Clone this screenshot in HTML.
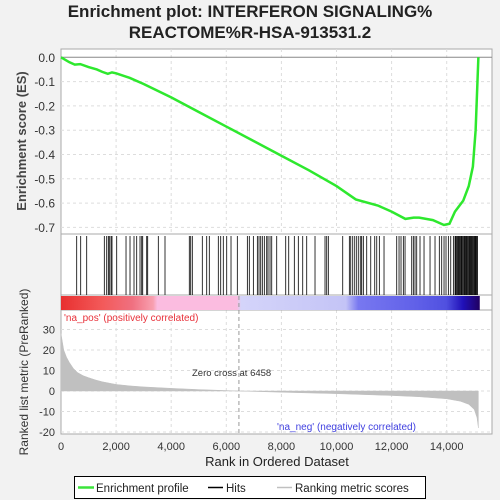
<!DOCTYPE html>
<html><head><meta charset="utf-8"><style>
body{margin:0;background:#f2f2f2;}
svg{display:block;font-family:"Liberation Sans",sans-serif;}
</style></head><body>
<svg id="c" width="500" height="500">
<rect x="0" y="0" width="500" height="500" fill="#f2f2f2"/>
<text x="250" y="17" text-anchor="middle" font-size="17" font-weight="bold" fill="#222">Enrichment plot: INTERFERON SIGNALING%</text>
<text x="250" y="38" text-anchor="middle" font-size="17" font-weight="bold" fill="#222">REACTOME%R-HSA-913531.2</text>
<rect x="61" y="49" width="431" height="385" fill="#fff" stroke="#aaa"/>
<g id="grid"></g>
<g id="layers"></g>
<text transform="translate(26,141) rotate(-90)" text-anchor="middle" font-size="13" font-weight="bold" fill="#444">Enrichment score (ES)</text>
<text transform="translate(28,372) rotate(-90)" text-anchor="middle" font-size="12" fill="#333">Ranked list metric (PreRanked)</text>
<text x="277" y="466" text-anchor="middle" font-size="13" fill="#222">Rank in Ordered Dataset</text>
<text x="64" y="321" font-size="10" fill="#e8313a">'na_pos' (positively correlated)</text>
<text x="277" y="430" font-size="10" fill="#4040e0">'na_neg' (negatively correlated)</text>
<text x="192" y="376" font-size="9.5" fill="#333">Zero cross at 6458</text>
<g>
<rect x="74.5" y="476.5" width="351" height="22" fill="#fff" stroke="#000"/>
<line x1="78" y1="487.5" x2="94" y2="487.5" stroke="#3be43b" stroke-width="2.5"/>
<text x="96" y="492" font-size="11.5" fill="#222">Enrichment profile</text>
<line x1="208" y1="487.5" x2="223" y2="487.5" stroke="#000" stroke-width="1.5"/>
<text x="226" y="492" font-size="11.5" fill="#222">Hits</text>
<line x1="277" y1="487.5" x2="292" y2="487.5" stroke="#c0c0c0" stroke-width="1.5"/>
<text x="295" y="492" font-size="11.5" fill="#222">Ranking metric scores</text>
</g>
</svg>
<script>
const esRanks=[0,300,500,700,1000,1300,1500,1700,1850,2000,2500,3000,4000,5000,6000,7000,8000,9000,10000,10700,11500,12000,12500,12800,13000,13500,13900,14100,14300,14600,14800,14950,15050,15150];
const esValues=[0,-0.02,-0.03,-0.028,-0.04,-0.05,-0.06,-0.068,-0.062,-0.066,-0.085,-0.11,-0.165,-0.225,-0.285,-0.345,-0.405,-0.465,-0.53,-0.585,-0.61,-0.635,-0.665,-0.66,-0.66,-0.67,-0.69,-0.685,-0.635,-0.59,-0.53,-0.45,-0.3,0];
const hitRanks=[570,715,933,1572,1659,1717,1753,1815,1851,2022,2360,2505,2650,2748,2868,2930,2966,3111,3147,3532,3775,4657,4708,4766,5129,5289,5383,5710,5797,5891,6015,6171,6400,6764,6835,6982,7127,7187,7249,7307,7380,7467,7514,7587,7649,7830,8157,8266,8469,8614,8774,8919,9220,9583,9645,9703,10226,10466,10517,10589,10662,10734,10807,10880,10916,10974,11097,11243,11388,11461,11555,11725,12186,12270,12342,12426,12488,12731,12789,12850,12912,13031,13177,13395,13576,13732,13819,13903,13975,14060,14147,14242,14302,14364,14422,14484,14546,14604,14666,14728,14786,14847,14909,14967,15029,15090,14330,14390,14450,14520,14580,14640,14700,14760,14820,14880,14940,15000,15060,15120];
const metricRanks=[0,50,100,200,300,450,600,800,1000,1250,1500,2000,2500,3000,4000,5000,6458,8000,10000,12000,13000,14000,14500,14800,15000,15100,15150];
const metricValues=[28,24,20,16.5,14,11,9,7.5,6.5,5.4,4.5,3.2,2.5,2,1.3,0.7,0,-0.6,-1.3,-2.2,-2.8,-3.8,-5,-6.5,-9,-13,-18];
const xTicks=[0,2000,4000,6000,8000,10000,12000,14000];
const esTicks=[0,-0.1,-0.2,-0.3,-0.4,-0.5,-0.6,-0.7];
const metricTicks=[30,20,10,0,-10,-20];
const NS='http://www.w3.org/2000/svg';
const X=r=>61+r*0.02755;
const Yes=v=>57.3-v*243;
const Ym=v=>391-v*2.05;
function mk(tag,attrs,parent){const e=document.createElementNS(NS,tag);for(const k in attrs)e.setAttribute(k,attrs[k]);parent.appendChild(e);return e;}
const g=document.getElementById('layers'),gr=document.getElementById('grid'),svg=document.getElementById('c');
// grids
xTicks.forEach(t=>{
 if(t>0){const l=mk('line',{x1:X(t),x2:X(t),y1:49,y2:234,stroke:'#ddd','stroke-dasharray':'3,3'},gr);
 
 const l2=mk('line',{x1:X(t),x2:X(t),y1:310,y2:434,stroke:'#ddd','stroke-dasharray':'3,3'},gr);
 }
 const tx=mk('text',{x:X(t),y:450,'text-anchor':'middle','font-size':'11',fill:'#333'},svg);
 tx.textContent=t.toLocaleString('en-US');
 
});
esTicks.forEach(t=>{
 const l=mk('line',{x1:61,x2:492,y1:Yes(t),y2:Yes(t),stroke:t===0?'#888':'#ddd','stroke-dasharray':t===0?'':'3,3'},gr);
 
 const tx=mk('text',{x:55,y:Yes(t)+4.5,'text-anchor':'end','font-size':'12',fill:'#333'},svg);
 tx.textContent=t.toFixed(1);
 
});
metricTicks.forEach(t=>{
 const l=mk('line',{x1:61,x2:492,y1:Ym(t),y2:Ym(t),stroke:'#ddd','stroke-dasharray':'3,3'},gr);
 
 const tx=mk('text',{x:55,y:Ym(t)+4,'text-anchor':'end','font-size':'11',fill:'#333'},svg);
 tx.textContent=t;
 
});
// panel separators
[234,295,310].forEach(y=>{const l=mk('line',{x1:61,x2:492,y1:y,y2:y,stroke:'#aaa'},g);
});
// color bar
const defs=mk('defs',{},svg);
const lg=mk('linearGradient',{id:'cb',x1:'0',x2:'1',y1:'0',y2:'0'},defs);
[[0,'#e83030'],[0.1,'#f35a5a'],[0.17,'#f07080'],[0.22,'#f8a0b0'],[0.23,'#fbbce0'],[0.42,'#fbbce0'],[0.43,'#d4d4fa'],[0.68,'#c4c4f6'],[0.71,'#7878f0'],[0.85,'#6060e8'],[0.92,'#5050e0'],[0.96,'#2010b8'],[1,'#200060']].forEach(s=>mk('stop',{offset:s[0],'stop-color':s[1]},lg));
const cb=mk('rect',{x:61,y:296,width:X(15200)-61,height:14,fill:'url(#cb)'},g);

// hits
hitRanks.forEach(r=>{const l=mk('line',{x1:X(r),x2:X(r),y1:236,y2:295,stroke:'#000','stroke-width':'0.8'},g);
});
// metric area
let d='M'+X(metricRanks[0])+','+Ym(0);
metricRanks.forEach((r,i)=>d+=' L'+X(r)+','+Ym(metricValues[i]));
d+=' L'+X(metricRanks[metricRanks.length-1])+','+Ym(0)+' Z';
const ar=mk('path',{d:d,fill:'#c0c0c0',stroke:'#c0c0c0','stroke-width':'0.5'},g);

const zc=mk('line',{x1:X(6458),x2:X(6458),y1:296,y2:434,stroke:'#999','stroke-dasharray':'4,3'},g);

// ES curve
const pts=esRanks.map((r,i)=>X(r)+','+Yes(esValues[i])).join(' ');
const pl=mk('polyline',{points:pts,fill:'none',stroke:'#2ee82e','stroke-width':'2.5'},g);

</script>
</body></html>
